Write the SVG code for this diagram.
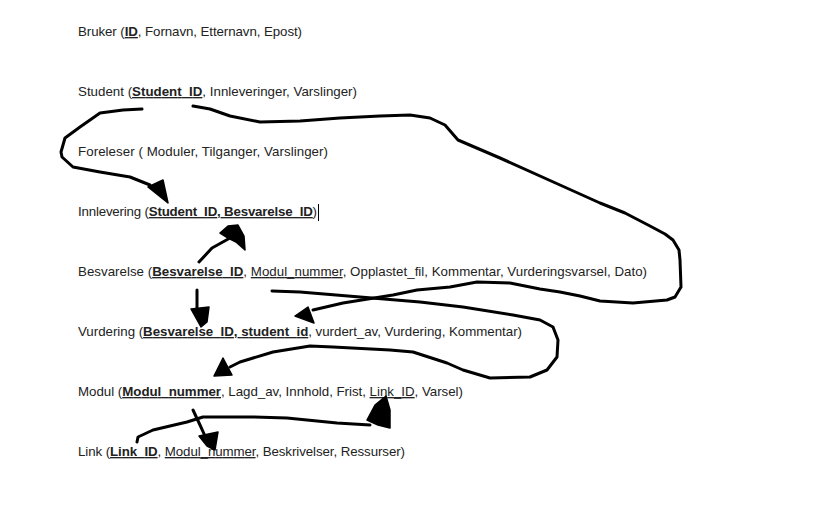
<svg xmlns="http://www.w3.org/2000/svg" width="819" height="521" viewBox="0 0 819 521">
<style>
text{font-family:"Liberation Sans",Arial,sans-serif;font-size:13.3px;fill:#222}
.b{font-weight:bold}
.pk{text-decoration:underline}
.fk{text-decoration:underline;text-decoration-style:dashed}
.c{fill:none;stroke:#000;stroke-width:3;stroke-linecap:round;stroke-linejoin:round}
.h{fill:#000;stroke:#000;stroke-width:1.5;stroke-linejoin:round}
</style>
<rect width="819" height="521" fill="#fff"/>
<g id="bruker"><text x="78" y="36" textLength="224" lengthAdjust="spacing">Bruker (<tspan class="b pk">ID</tspan>, Fornavn, Etternavn, Epost)</text></g>
<g id="student"><text x="78" y="96" textLength="279" lengthAdjust="spacing">Student (<tspan class="b pk">Student_ID</tspan>, Innleveringer, Varslinger)</text></g>
<g id="foreleser"><text x="78" y="156" textLength="250" lengthAdjust="spacing">Foreleser ( Moduler, Tilganger, Varslinger)</text></g>
<g id="innlevering"><text x="78" y="216" textLength="239" lengthAdjust="spacing">Innlevering (<tspan class="b fk">Student_ID, Besvarelse_ID</tspan>)</text><line x1="318.5" y1="204" x2="318.5" y2="221" stroke="#000" stroke-width="1"/></g>
<g id="besvarelse"><text x="78" y="276" textLength="569" lengthAdjust="spacing">Besvarelse (<tspan class="b pk">Besvarelse_ID</tspan>, <tspan class="fk">Modul_nummer</tspan>, Opplastet_fil, Kommentar, Vurderingsvarsel, Dato)</text></g>
<g id="vurdering"><text x="78" y="336" textLength="444" lengthAdjust="spacing">Vurdering (<tspan class="b fk">Besvarelse_ID, student_id</tspan>, vurdert_av, Vurdering, Kommentar)</text></g>
<g id="modul"><text x="78" y="396" textLength="385" lengthAdjust="spacing">Modul (<tspan class="b pk">Modul_nummer</tspan>, Lagd_av, Innhold, Frist, <tspan class="fk">Link_ID</tspan>, Varsel)</text></g>
<g id="link"><text x="78" y="456" textLength="327" lengthAdjust="spacing">Link (<tspan class="b pk">Link_ID</tspan>, <tspan class="fk">Modul_nummer</tspan>, Beskrivelser, Ressurser)</text></g>
<g id="connectors">
<path class="c" d="M142,109 L123,110 L100,113 L80,127 L65,138 L61,152 L62,157 L73,167 L100,172 L130,177 L150,185"/>
<polygon class="h" points="148,187 163,180 168,203"/>
<path class="c" d="M193,106 L210,109 L230,116 L260,122 L300,121 L340,118 L380,116 L410,115 L430,118 L445,125 L458,140 L500,158 L560,185 L600,203 L625,213 L650,226 L665,234 L673,240 L679,250 L680,260 L681,287 L675,297 L667,300 L633,303 L600,301 L580,296 L560,292 L540,289 L510,283 L477,282 L450,287 L417,290 L393,295 L343,303 L313,310"/>
<polygon class="h" points="295,316 308,307 314,323"/>
<path class="c" d="M199,262 L212,248 L230,238"/>
<polygon class="h" points="220,233 228,226 238,225 244,236 245,250 236,242 228,238"/>
<path class="c" d="M197,290 L197,310"/>
<polygon class="h" points="191,309 209,307 207,322 201,327"/>
<path class="c" d="M272,291 L300,292 L360,297 L420,302 L463,307 L513,315 L540,320 L553,327 L558,340 L557,357 L547,370 L530,377 L490,378 L463,370 L447,363 L413,352 L390,350 L333,347 L310,346 L273,352 L240,362 L230,367"/>
<polygon class="h" points="223,358 214,376 232,375"/>
<path class="c" d="M193,410 L200,425 L205,436"/>
<polygon class="h" points="199,436 218,432 215,450 207,446"/>
<path class="c" d="M137,442 L138,437 L153,430 L187,422 L203,417 L253,417 L287,418 L337,423 L370,425"/>
<polygon class="h" points="367,420 375,405 386,396 390,410 390,428 378,425"/>
</g>
</svg>
